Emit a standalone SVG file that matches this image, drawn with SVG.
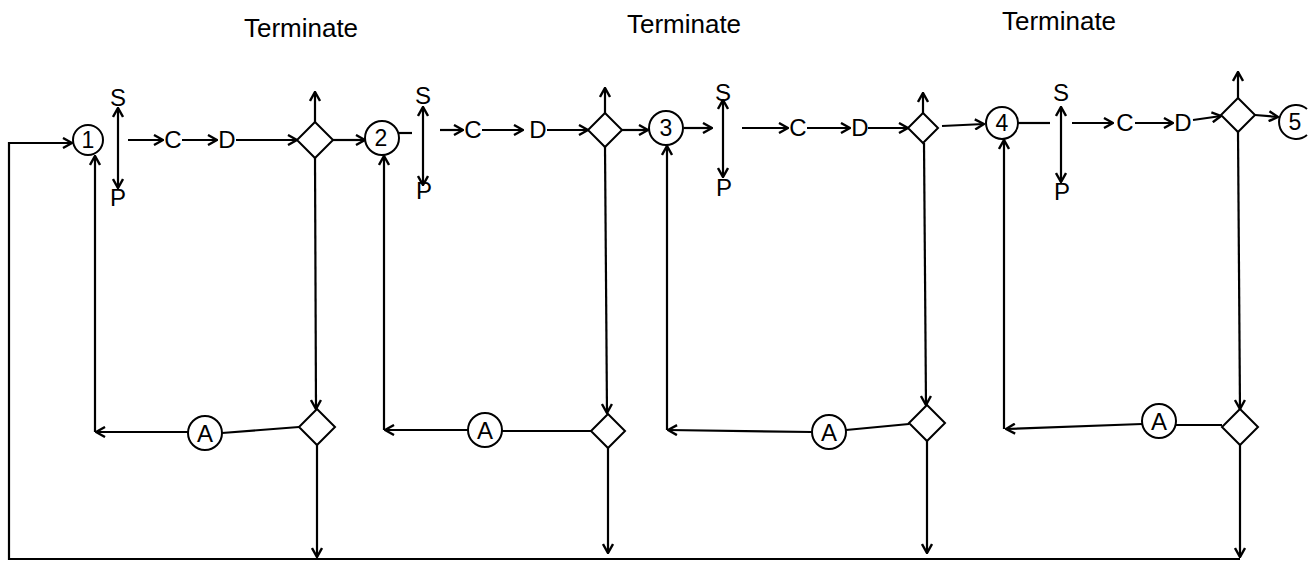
<svg xmlns="http://www.w3.org/2000/svg" width="1315" height="561" viewBox="0 0 1315 561">
<style>
text{font-family:"Liberation Sans",Arial,sans-serif;fill:#000;text-anchor:middle}
.t{font-size:26px}
.l{font-size:24px}
.n{font-size:23px}
.c{fill:#fff;stroke:#000;stroke-width:2}
.d{fill:#fff;stroke:#000;stroke-width:2}
.e{fill:none;stroke:#000;stroke-width:2.2}
.a{marker-end:url(#ah)}
.b{marker-start:url(#ah);marker-end:url(#ah)}
</style>
<defs>
<marker id="ah" viewBox="0 0 12 12" refX="11" refY="6" markerWidth="12" markerHeight="12" markerUnits="userSpaceOnUse" orient="auto-start-reverse">
<path d="M2,1 L11,6 L2,11" fill="none" stroke="#000" stroke-width="2.4"/>
</marker>
</defs>
<rect width="1315" height="561" fill="#fff"/>
<g id="connectors">
<!-- block 1 top -->
<path class="e a" d="M128,140H163"/>
<path class="e a" d="M182,140H217"/>
<path class="e a" d="M236,140H297"/>
<path class="e a" d="M315,122V92"/>
<path class="e a" d="M333,140H365"/>
<path class="e b" d="M118,108V188"/>
<!-- block 2 top -->
<path class="e" d="M399,133H412" stroke-width="1.5"/>
<path class="e b" d="M423,107V185"/>
<path class="e a" d="M440,130H463"/>
<path class="e a" d="M482,130H523"/>
<path class="e a" d="M547,130H588"/>
<path class="e a" d="M605,113V88"/>
<path class="e a" d="M622,130H648"/>
<!-- block 3 top -->
<path class="e a" d="M684,128H712"/>
<path class="e b" d="M723,100V177"/>
<path class="e a" d="M742,128H788"/>
<path class="e a" d="M807,128H850"/>
<path class="e a" d="M868,128H908"/>
<path class="e a" d="M923,113V93"/>
<path class="e a" d="M942,126L984,124"/>
<!-- block 4 top -->
<path class="e" d="M1018,123H1050"/>
<path class="e b" d="M1061,107V182"/>
<path class="e a" d="M1072,123H1113"/>
<path class="e a" d="M1135,123H1173"/>
<path class="e a" d="M1193,120L1221,116"/>
<path class="e a" d="M1238,98V72"/>
<path class="e a" d="M1255,115L1278,117"/>
<!-- verticals down from top diamonds -->
<path class="e a" d="M315,158L316,409"/>
<path class="e a" d="M605,147L607,413"/>
<path class="e a" d="M924,143L926,405"/>
<path class="e a" d="M1238,132L1240,409"/>
<!-- down from bottom diamonds -->
<path class="e a" d="M317,445V557"/>
<path class="e a" d="M608,448V553"/>
<path class="e a" d="M927,441V553"/>
<path class="e a" d="M1240,445V557"/>
<!-- feedback lines -->
<path class="e" d="M299,427L222,433"/>
<path class="e a" d="M188,432H96"/>
<path class="e a" d="M95,432V156"/>
<path class="e" d="M591,431H502"/>
<path class="e a" d="M468,430H385"/>
<path class="e a" d="M384,430V156"/>
<path class="e" d="M909,424L846,430"/>
<path class="e a" d="M812,432L668,430"/>
<path class="e a" d="M667,430V146"/>
<path class="e" d="M1222,425H1176"/>
<path class="e a" d="M1142,424L1006,429"/>
<path class="e a" d="M1004,429V140"/>
<!-- outer loop -->
<path class="e a" d="M1240,559H9V143H72"/>
</g>
<g id="terminate1"><text class="t" x="301" y="37">Terminate</text></g>
<g id="terminate2"><text class="t" x="684" y="33">Terminate</text></g>
<g id="terminate3"><text class="t" x="1059" y="30">Terminate</text></g>
<g id="n1"><circle class="c" cx="88" cy="140" r="15"/><text class="n" x="88" y="148">1</text></g>
<g id="n2"><circle class="c" cx="382" cy="138" r="17"/><text class="n" x="381" y="146">2</text></g>
<g id="n3"><circle class="c" cx="666" cy="128" r="17"/><text class="n" x="666" y="136">3</text></g>
<g id="n4"><circle class="c" cx="1002" cy="123" r="16"/><text class="n" x="1002" y="131">4</text></g>
<g id="n5"><path d="M1307,109 A17,17 0 1 0 1307,135" fill="none" stroke="#000" stroke-width="2"/><text class="n" x="1295" y="130">5</text></g>
<g id="sp1"><text class="l" x="118" y="106">S</text><text class="l" x="118" y="206">P</text></g>
<g id="sp2"><text class="l" x="423" y="104">S</text><text class="l" x="424" y="199">P</text></g>
<g id="sp3"><text class="l" x="723" y="101">S</text><text class="l" x="724" y="196">P</text></g>
<g id="sp4"><text class="l" x="1061" y="101">S</text><text class="l" x="1062" y="200">P</text></g>
<g id="c1"><text class="l" x="173" y="148">C</text></g>
<g id="d1"><text class="l" x="227" y="148">D</text></g>
<g id="c2"><text class="l" x="473" y="138">C</text></g>
<g id="d2"><text class="l" x="538" y="138">D</text></g>
<g id="c3"><text class="l" x="798" y="136">C</text></g>
<g id="d3"><text class="l" x="860" y="136">D</text></g>
<g id="c4"><text class="l" x="1125" y="131">C</text></g>
<g id="d4"><text class="l" x="1183" y="131">D</text></g>
<g id="dt1"><polygon class="d" points="315,122 333,140 315,158 297,140"/></g>
<g id="dt2"><polygon class="d" points="605,113 622,130 605,147 588,130"/></g>
<g id="dt3"><polygon class="d" points="923,113 938,128 923,143 908,128"/></g>
<g id="dt4"><polygon class="d" points="1238,98 1255,115 1238,132 1221,115"/></g>
<g id="db1"><polygon class="d" points="317,409 335,427 317,445 299,427"/></g>
<g id="db2"><polygon class="d" points="608,414 625,431 608,448 591,431"/></g>
<g id="db3"><polygon class="d" points="927,405 945,423 927,441 909,423"/></g>
<g id="db4"><polygon class="d" points="1240,409 1258,427 1240,445 1222,427"/></g>
<g id="a1"><circle class="c" cx="205" cy="433" r="17"/><text class="l" x="205" y="442">A</text></g>
<g id="a2"><circle class="c" cx="485" cy="430" r="17"/><text class="l" x="485" y="439">A</text></g>
<g id="a3"><circle class="c" cx="829" cy="432" r="17"/><text class="l" x="829" y="441">A</text></g>
<g id="a4"><circle class="c" cx="1159" cy="421" r="17"/><text class="l" x="1159" y="430">A</text></g>
</svg>
